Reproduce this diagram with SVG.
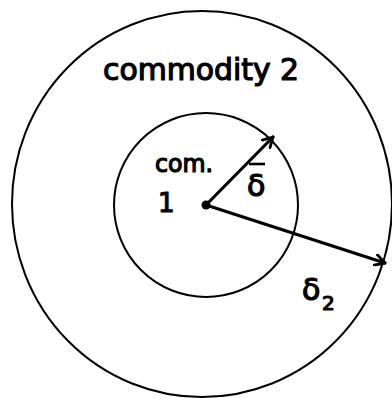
<svg xmlns="http://www.w3.org/2000/svg" width="392" height="398" viewBox="0 0 392 398">
<style>
.c{fill:none;stroke:#000;stroke-width:2}
.a{fill:none;stroke:#000;stroke-width:3.2;stroke-linecap:round}
.t{font-family:"DejaVu Sans",sans-serif;fill:#000;stroke:#000;stroke-width:1.2}
</style>
<defs>
<marker id="ah" viewBox="0 0 12 12" refX="10" refY="6" markerWidth="13" markerHeight="13" markerUnits="userSpaceOnUse" orient="auto">
<path d="M1,1 L10,6 L1,11" fill="none" stroke="#000" stroke-width="2.6" stroke-linecap="round" stroke-linejoin="round"/>
</marker>
</defs>
<rect width="392" height="398" fill="#fff"/>
<g id="outer"><ellipse class="c" cx="202" cy="204" rx="190" ry="193"/>
<text class="t" x="103" y="80" font-size="30" textLength="196" lengthAdjust="spacingAndGlyphs">commodity 2</text></g>
<g id="inner"><circle class="c" cx="206" cy="205" r="92"/>
<text class="t" x="155" y="172" font-size="24" textLength="58" lengthAdjust="spacingAndGlyphs">com.</text>
<text class="t" x="158" y="212" font-size="26">1</text></g>
<g id="center"><circle cx="206" cy="205" r="4.5" fill="#000"/></g>
<g id="connectors">
<line class="a" x1="206" y1="205" x2="273" y2="137" marker-end="url(#ah)"/>
<line class="a" x1="206" y1="205" x2="385" y2="263" marker-end="url(#ah)"/>
</g>
<g id="labels">
<text class="t" x="247" y="196" font-size="30">δ</text>
<line x1="249" y1="164" x2="265" y2="164" stroke="#000" stroke-width="2.6"/>
<text class="t" x="302" y="300" font-size="30">δ</text>
<text class="t" x="322" y="310" font-size="20">2</text>
</g>
</svg>
